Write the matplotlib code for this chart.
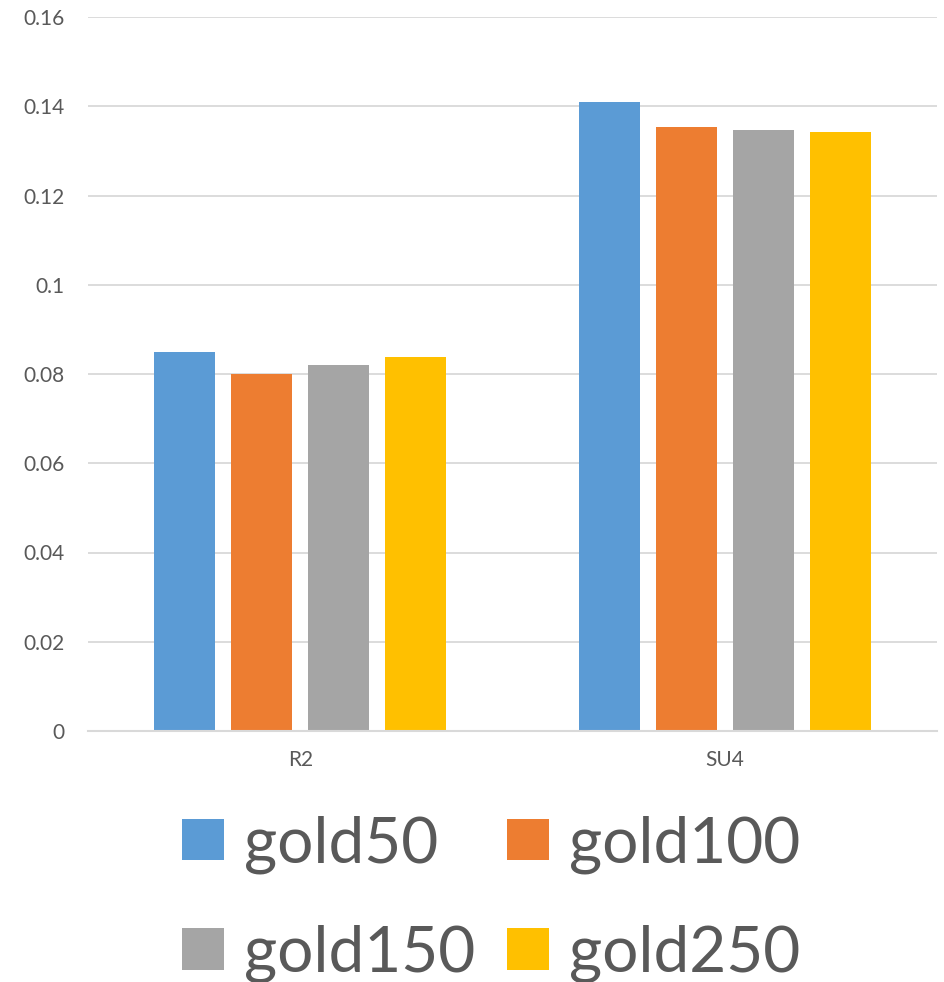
import numpy as np
import matplotlib.pyplot as plt

# chart values
categories = ['R2', 'SU4']
series_names = ['gold50', 'gold100', 'gold150', 'gold250']
gold50 = [0.0849, 0.1410]
gold100 = [0.0800, 0.1353]
gold150 = [0.0821, 0.1347]
gold250 = [0.0838, 0.1342]
yticks = [0, 0.02, 0.04, 0.06, 0.08, 0.1, 0.12, 0.14, 0.16]
ytick_labels = ['0', '0.02', '0.04', '0.06', '0.08', '0.1', '0.12', '0.14', '0.16']

colors = ['#5B9BD5', '#ED7D31', '#A5A5A5', '#FFC000']
txt = '#595959'
plt.rcParams['font.family'] = ['Lato', 'DejaVu Sans']

W, H = 944, 982
fig = plt.figure(figsize=(W / 100, H / 100), dpi=100)
ax = fig.add_axes([88 / W, 1 - 731 / H, (937 - 88) / W, (731 - 17) / H])

x = np.arange(len(categories))
step = 0.1812
bw = 0.1435
bars = []
for i, (name, vals) in enumerate(zip(series_names, [gold50, gold100, gold150, gold250])):
    b = ax.bar(x + (i - 1.5) * step, vals, width=bw, color=colors[i], label=name, zorder=3)
    bars.append(b)

ax.set_xlim(-0.5, 1.5)
ax.set_ylim(0, 0.16)
ax.set_yticks(yticks)
ax.set_yticklabels(ytick_labels)
ax.set_xticks(x)
ax.set_xticklabels(categories)
ax.yaxis.grid(True, color='#D9D9D9', linewidth=1.3, zorder=0)
for s in ['top', 'right', 'left']:
    ax.spines[s].set_visible(False)
ax.spines['bottom'].set_color('#D9D9D9')
ax.spines['bottom'].set_linewidth(1.5)
ax.spines['bottom'].set_zorder(4)
ax.tick_params(axis='y', length=0, pad=17, labelsize=15, labelcolor=txt)
ax.tick_params(axis='x', length=0, pad=14, labelsize=15, labelcolor=txt)

# legend fills by column, so reorder to get rows gold50 gold100 / gold150 gold250
order = [0, 2, 1, 3]
fs = 46
leg = fig.legend([bars[i] for i in order], [series_names[i] for i in order],
                 loc='upper left', bbox_to_anchor=(182 / W, 1 - 815 / H), ncol=2,
                 frameon=False, fontsize=fs, borderpad=0, borderaxespad=0,
                 handlelength=0.656, handleheight=0.625, handletextpad=0.31,
                 columnspacing=0.5, labelspacing=0.8)
for t in leg.get_texts():
    t.set_color(txt)

fig.savefig('out.png', dpi=100)
